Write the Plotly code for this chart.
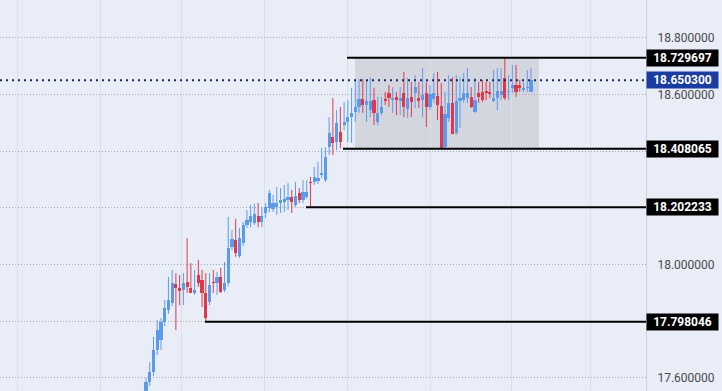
import plotly.graph_objects as go

# ---- data ----
opens = [17.540, 17.586, 17.621, 17.699, 17.734, 17.797, 17.840, 17.864, 17.931, 17.917,
         17.910, 17.938, 17.917, 17.900, 17.963, 17.945, 17.900, 17.868, 17.938, 17.935,
         17.956, 17.910, 17.935, 18.062, 18.087, 18.030, 18.076, 18.139, 18.150, 18.147,
         18.171, 18.150, 18.182, 18.199, 18.196, 18.203, 18.217, 18.220, 18.228, 18.238,
         18.210, 18.252, 18.228, 18.238, 18.291, 18.291, 18.295, 18.316, 18.298, 18.415,
         18.450, 18.432, 18.467, 18.492, 18.503, 18.520, 18.538, 18.556, 18.584, 18.563,
         18.545, 18.580, 18.503, 18.535, 18.584, 18.605, 18.582, 18.591, 18.580, 18.605,
         18.549, 18.591, 18.605, 18.587, 18.580, 18.605, 18.556, 18.584, 18.594, 18.559,
         18.415, 18.517, 18.570, 18.464, 18.580, 18.580, 18.587, 18.591, 18.538, 18.605,
         18.609, 18.609, 18.605, 18.580, 18.587, 18.598, 18.658, 18.609, 18.626, 18.633,
         18.633, 18.617, 18.623, 18.609]
highs = [17.600, 17.656, 17.745, 17.804, 17.811, 17.875, 17.956, 17.981, 17.970, 17.963,
         17.970, 18.093, 18.005, 17.981, 18.016, 17.981, 17.970, 17.970, 17.981, 17.974,
         17.988, 18.009, 18.168, 18.122, 18.161, 18.129, 18.150, 18.192, 18.210, 18.214,
         18.217, 18.203, 18.217, 18.263, 18.245, 18.273, 18.270, 18.280, 18.287, 18.263,
         18.291, 18.270, 18.298, 18.298, 18.309, 18.344, 18.362, 18.411, 18.414, 18.520,
         18.587, 18.545, 18.556, 18.573, 18.580, 18.623, 18.651, 18.654, 18.654, 18.651,
         18.661, 18.623, 18.591, 18.591, 18.609, 18.633, 18.626, 18.609, 18.626, 18.679,
         18.658, 18.644, 18.668, 18.644, 18.693, 18.644, 18.633, 18.675, 18.679, 18.640,
         18.609, 18.668, 18.661, 18.668, 18.661, 18.675, 18.693, 18.626, 18.658, 18.644,
         18.651, 18.644, 18.644, 18.686, 18.693, 18.693, 18.729697, 18.668, 18.704, 18.704,
         18.651, 18.644, 18.686, 18.693]
lows = [17.535, 17.572, 17.607, 17.681, 17.699, 17.783, 17.826, 17.854, 17.769, 17.857,
        17.857, 17.900, 17.900, 17.893, 17.921, 17.850, 17.798046, 17.857, 17.900, 17.893,
        17.900, 17.903, 17.924, 18.051, 18.027, 18.023, 18.065, 18.129, 18.132, 18.139,
        18.132, 18.132, 18.164, 18.185, 18.185, 18.175, 18.182, 18.185, 18.192, 18.182,
        18.203, 18.217, 18.217, 18.232, 18.202233, 18.281, 18.284, 18.305, 18.291, 18.386,
        18.386, 18.404, 18.410, 18.474, 18.432, 18.429, 18.503, 18.535, 18.535, 18.503,
        18.520, 18.492, 18.492, 18.527, 18.563, 18.556, 18.535, 18.527, 18.527, 18.520,
        18.517, 18.520, 18.552, 18.552, 18.520, 18.485, 18.545, 18.570, 18.510, 18.408065,
        18.408, 18.503, 18.460, 18.457, 18.482, 18.570, 18.570, 18.552, 18.535, 18.570,
        18.573, 18.580, 18.587, 18.573, 18.545, 18.580, 18.580, 18.580, 18.605, 18.591,
        18.609, 18.609, 18.609, 18.609]
closes = [17.586, 17.621, 17.699, 17.769, 17.797, 17.847, 17.875, 17.935, 17.917, 17.907,
          17.935, 17.921, 17.900, 17.910, 17.935, 17.900, 17.811, 17.928, 17.935, 17.956,
          17.903, 17.935, 18.058, 18.090, 18.041, 18.094, 18.139, 18.157, 18.171, 18.178,
          18.150, 18.171, 18.203, 18.252, 18.217, 18.217, 18.228, 18.231, 18.238, 18.220,
          18.242, 18.228, 18.256, 18.256, 18.288, 18.309, 18.305, 18.323, 18.379, 18.464,
          18.429, 18.499, 18.432, 18.503, 18.520, 18.535, 18.556, 18.584, 18.563, 18.577,
          18.577, 18.535, 18.535, 18.556, 18.577, 18.587, 18.585, 18.580, 18.587, 18.556,
          18.587, 18.573, 18.626, 18.580, 18.598, 18.556, 18.602, 18.605, 18.563, 18.410,
          18.531, 18.570, 18.462, 18.577, 18.587, 18.605, 18.605, 18.556, 18.580, 18.591,
          18.580, 18.605, 18.603, 18.587, 18.612, 18.612, 18.587, 18.612, 18.633, 18.609,
          18.623, 18.619, 18.626, 18.6503]

levels = [18.729697, 18.408065, 18.202233, 17.798046]
level_labels = ["18.729697", "18.408065", "18.202233", "17.798046"]
last_price = 18.650300
last_label = "18.650300"
ytick_vals = [17.6, 17.8, 18.0, 18.2, 18.4, 18.6, 18.8]
# labels at 17.8 / 18.2 / 18.4 are hidden behind the level boxes in the reference
ytick_text = ["17.600000", "", "18.000000", "", "", "18.600000", "18.800000"]

# ---- layout / style configuration ----
level_starts = [53.8, 52.7, 42.8, 15.8]
range_box_x = [55.9, 105.1]
x_range = [-39.06, 133.77]
y_range = [17.554, 18.933]
vgrid = [-34.5, -12.3, 9.6, 31.8, 54.0, 76.0, 97.9, 118.8]

UP = "#5b9bea"
DOWN = "#e2374a"
BG = "#e9edf8"

idx = list(range(len(opens)))
colors = [UP if c >= o else DOWN for o, c in zip(opens, closes)]
body_base = [min(o, c) for o, c in zip(opens, closes)]
body_h = [max(abs(c - o), 0.0025) for o, c in zip(opens, closes)]

fig = go.Figure()

# wicks
for col in (UP, DOWN):
    wx, wy = [], []
    for i, o, h, l, c in zip(idx, opens, highs, lows, closes):
        if (UP if c >= o else DOWN) == col:
            wx += [i, i, None]
            wy += [l, h, None]
    fig.add_trace(go.Scatter(x=wx, y=wy, mode="lines", line=dict(color=col, width=1),
                             hoverinfo="skip", showlegend=False))

# bodies
fig.add_trace(go.Bar(x=idx, y=body_h, base=body_base, width=0.85,
                     marker=dict(color=colors, line=dict(width=0)),
                     hoverinfo="skip", showlegend=False))

shapes = []
shapes.append(dict(type="rect", xref="x", yref="y", x0=range_box_x[0], x1=range_box_x[1],
                   y0=levels[1], y1=levels[0], fillcolor="#d3d6df", line=dict(width=0),
                   layer="below"))
for lv, xs in zip(levels, level_starts):
    shapes.append(dict(type="line", xref="x", yref="y", x0=xs, x1=x_range[1], y0=lv, y1=lv,
                       line=dict(color="#000000", width=2)))
shapes.append(dict(type="line", xref="paper", yref="y", x0=0, x1=1, y0=last_price, y1=last_price,
                   line=dict(color="#1c2a5e", width=2, dash="2px,4px")))

annotations = []
for lv, lab in zip(levels, level_labels):
    annotations.append(dict(x=1, xref="paper", y=lv, yref="y", xanchor="left", yanchor="middle",
                            text="<b>" + lab + "</b>", showarrow=False,
                            font=dict(color="white", size=12, family="Roboto"),
                            bgcolor="#000000", width=67, height=12, borderpad=2, align="center"))
annotations.append(dict(x=1, xref="paper", y=last_price, yref="y", xanchor="left", yanchor="middle",
                        text="<b>" + last_label + "</b>", showarrow=False,
                        font=dict(color="white", size=12, family="Roboto"),
                        bgcolor="#1a3c9e", width=67, height=12, borderpad=2, align="center"))

fig.update_layout(
    width=722, height=391,
    margin=dict(l=0, r=76, t=0, b=0),
    paper_bgcolor=BG, plot_bgcolor=BG,
    showlegend=False, hovermode=False,
    bargap=0,
    shapes=shapes, annotations=annotations,
    xaxis=dict(range=x_range, showticklabels=False, zeroline=False, showgrid=True,
               tickmode="array", tickvals=vgrid, gridcolor="#d9dee9", gridwidth=1,
               showline=False, fixedrange=True),
    yaxis=dict(range=y_range, side="right", tickmode="array", tickvals=ytick_vals,
               ticktext=ytick_text, showgrid=True, gridcolor="#a3a8b3", griddash="1px,2px",
               gridwidth=1, zeroline=False, showline=True, linecolor="#cfd3dc", linewidth=1,
               ticks="", ticklabelstandoff=8,
               tickfont=dict(size=12, color="#4a4a4a", family="Roboto"), fixedrange=True),
)

fig.write_html("out.html", config={"displayModeBar": False},
               post_script="document.body.style.margin='0';document.body.style.background='%s';" % BG)
